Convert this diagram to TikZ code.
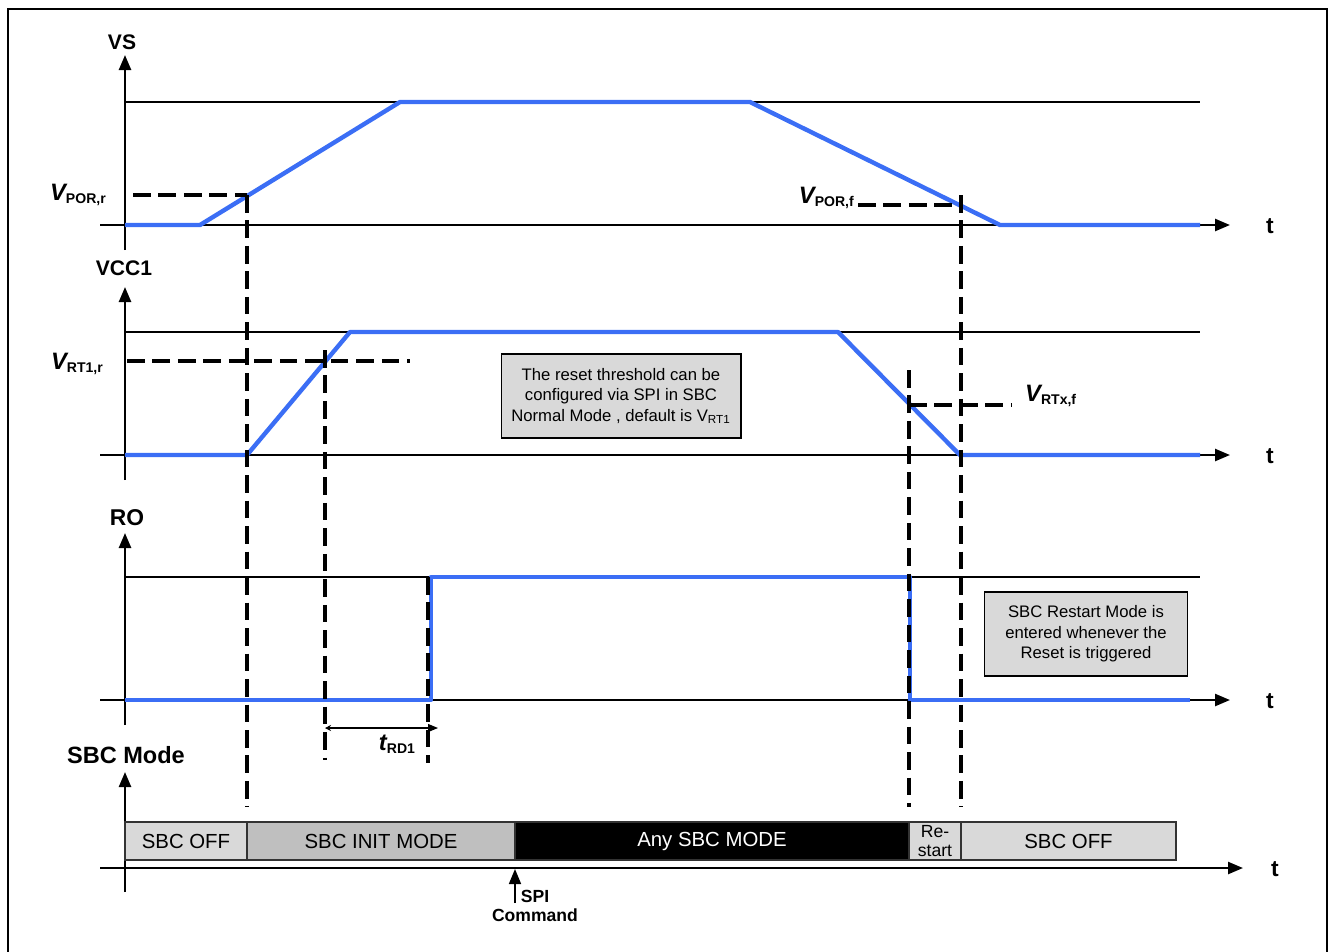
\documentclass[tikz,border=0pt]{standalone}
\usepackage{fontspec}
\setmainfont{Liberation Sans}
\usetikzlibrary{arrows.meta}
\definecolor{sigblue}{RGB}{59,110,245}
\definecolor{offgray}{RGB}{217,217,217}
\definecolor{initgray}{RGB}{191,191,191}
\newcommand\vthr[2]{{\fontsize{13.5}{14}\selectfont\bfseries\itshape #1}\raisebox{-0.35ex}{\fontsize{8}{9}\selectfont\bfseries #2}}

\begin{document}
\begin{tikzpicture}[x=0.02cm,y=-0.02cm,>={Triangle[length=0.3cm,width=0.24cm]},
  axis/.style={line width=1.4pt},
  ref/.style={line width=0.6pt},
  sig/.style={sigblue,line width=2.5pt,line join=round},
  guide/.style={line width=2.1pt,dash pattern=on 10pt off 4.5pt},
  lbl/.style={font=\fontsize{12}{14}\selectfont\bfseries},
  note/.style={draw,line width=0.6pt,fill=offgray,align=center,inner sep=0pt,
    font=\fontsize{9.5}{11.6}\selectfont,minimum height=1.68cm},
  modebox/.style={draw=black!80,line width=0.6pt},
  modetext/.style={font=\fontsize{11.6}{13}\selectfont}]
\useasboundingbox (0,0) rectangle (1333,951);
\draw[line width=0.6pt] (8,960) -- (8,9) -- (1327,9) -- (1327,960);

% VS
\node[lbl] (vs) at (122,42) {VS};
\draw[axis,->] (125,250) -- (125,55);
\draw[ref] (125,102) -- (1200,102);
\draw[axis,->] (100,225) -- (1230,225);
\node[lbl,font=\fontsize{13}{14}\selectfont\bfseries] (t1) at (1270,226) {t};
\draw[sig] (125,225) -- (200,225) -- (400,102) -- (750,102) -- (1000,225) -- (1200,225);
\node[anchor=east] (porr) at (112,195) {\vthr{V}{POR,r}};
\node[anchor=east] (porf) at (860,198) {\vthr{V}{POR,f}};
\draw[guide] (133,195) -- (247,195);
\draw[guide] (858,205) -- (961,205);

% VCC1
\node[lbl] (vcc) at (124,268) {VCC1};
\draw[axis,->] (125,480) -- (125,287);
\draw[ref] (125,332) -- (1200,332);
\draw[axis,->] (100,455) -- (1230,455);
\node[lbl,font=\fontsize{13}{14}\selectfont\bfseries] (t2) at (1270,456) {t};
\draw[sig] (125,455) -- (247,455) -- (350,332) -- (838,332) -- (960,455) -- (1200,455);
\node[anchor=east] (rt1) at (109,364) {\vthr{V}{RT1,r}};
\node[anchor=west] (rtx) at (1019,396) {\vthr{V}{RTx,f}};
\draw[guide] (127,361) -- (410,361);
\draw[guide] (909,405) -- (1012,405);
\node[note,minimum width=4.8cm] (note1) at (621,396)
  {The reset threshold can be\\configured via SPI in SBC\\Normal Mode , default is V\textsubscript{RT1}};

% RO
\node[lbl,font=\fontsize{13}{14}\selectfont\bfseries] (ro) at (127,518) {RO};
\draw[axis,->] (125,725) -- (125,533);
\draw[ref] (125,577) -- (1200,577);
\draw[axis,->] (100,700) -- (1230,700);
\node[lbl,font=\fontsize{13}{14}\selectfont\bfseries] (t3) at (1270,701) {t};
\draw[sig] (125,700) -- (431,700) -- (431,577) -- (910,577) -- (910,700) -- (1190,700);
\node[note,minimum width=4.06cm] (note2) at (1086,634)
  {SBC Restart Mode is\\entered whenever the\\Reset is triggered};
\draw[line width=0.6pt,{Stealth[length=0.12cm,width=0.12cm]}-{Triangle[length=0.2cm,width=0.16cm]}] (325,728) -- (438,728);
\node (trd) at (397,744) {\vthr{t}{RD1}};

% SBC Mode
\node[font=\fontsize{13.4}{15}\selectfont\bfseries] (mode) at (126,755) {SBC Mode};
\draw[axis,->] (125,892) -- (125,772);
\draw[modebox,fill=offgray] (125,822) rectangle node[modetext] (off1) {SBC OFF} (247,860);
\draw[modebox,fill=initgray] (247,822) rectangle node[modetext] (init) {SBC INIT MODE} (515,860);
\draw[modebox,fill=black] (515,822) rectangle node[modetext,white] (any) {Any SBC MODE} (909,860);
\draw[modebox,fill=offgray] (909,822) rectangle node[align=center,font=\fontsize{10}{11}\selectfont] (rst) {Re-\\start} (961,860);
\draw[modebox,fill=offgray] (961,822) rectangle node[modetext] (off2) {SBC OFF} (1176,860);
\draw[axis,->] (100,868) -- (1243,868);
\node[lbl,font=\fontsize{13}{14}\selectfont\bfseries] (t4) at (1275,869) {t};
\draw[line width=0.9pt,->] (515,903) -- (515,869);
\node[align=center,font=\fontsize{10}{11}\selectfont\bfseries] (spi) at (535,906) {SPI\\Command};

% guides
\draw[guide] (247,195) -- (247,807);
\draw[guide] (325,350) -- (325,760);
\draw[guide] (428,577) -- (428,763);
\draw[guide] (909,370) -- (909,807);
\draw[guide] (961,195) -- (961,807);
\end{tikzpicture}
\end{document}
